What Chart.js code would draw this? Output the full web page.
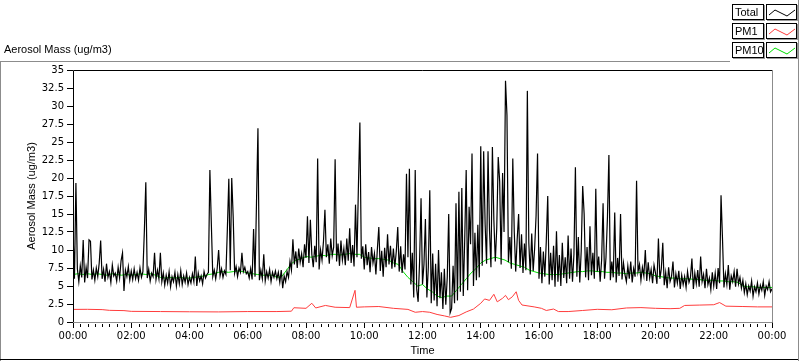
<!DOCTYPE html>
<html>
<head>
<meta charset="utf-8">
<script src="https://cdn.jsdelivr.net/npm/chart.js@4"></script>
<style>
    body { margin: 0; background: #fff; }
    #wrap { position: relative; width: 800px; height: 361px; overflow: hidden; }
    #chart { position: absolute; left: 0; top: 0; }
    .frame-top { position: absolute; left: 0; top: 61px; width: 730px; height: 0; border-top: 1px solid #8c8c8c; }
    .frame-left { position: absolute; left: 0; top: 61px; width: 0; height: 300px; border-left: 1px solid #8c8c8c; }
    .frame-bottom { position: absolute; left: 0; top: 359px; width: 799px; height: 0; border-top: 1px solid #000; }
    .frame-right { position: absolute; left: 798px; top: 0; width: 0; height: 361px; border-left: 1px solid #8c8c8c; }
    .title { position: absolute; left: 4px; top: 43px; font: 11px "Liberation Sans", Arial, sans-serif; color: #000; }
    .lg { position: absolute; height: 14px; border: 1px solid #000; background: #fff; box-shadow: 1px 1px 0 #9a9a9a;
          font: 11px "Liberation Sans", Arial, sans-serif; line-height: 14px; padding-left: 2px; box-sizing: content-box; }
    .lg svg { position: absolute; left: 0; top: 0; }
</style>
</head>
<body>
<div id="wrap">
    <canvas id="chart" width="800" height="361"></canvas>
    <div class="frame-top"></div>
    <div class="frame-left"></div>
    <div class="frame-bottom"></div>
    <div class="frame-right"></div>
    <div class="title">Aerosol Mass (ug/m3)</div>
    <div id="legend"></div>
</div>
<script>
    // sampling step of the Total series, minutes
    const totalStep = 3;
    // Total, 20 samples per hour
    const totalValues = [
        12.5, 6.0, 19.3, 7.4, 5.6, 7.8, 6.2, 11.4, 5.5, 7.6, 6.1, 11.4, 11.2, 5.9, 7.2, 5.8, 7.5, 6.3, 8.2, 11.3, // 00
        6.0, 7.3, 5.6, 8.1, 6.2, 7.0, 5.5, 7.9, 6.4, 6.8, 5.7, 7.6, 6.1, 8.5, 9.6, 4.3, 7.2, 6.3, 7.7, 5.8,       // 01
        7.1, 5.9, 7.4, 6.0, 6.9, 5.8, 7.5, 6.2, 7.0, 12.6, 19.4, 6.1, 7.3, 5.7, 6.8, 6.3, 9.6, 5.9, 7.2, 6.0,     // 02
        9.6, 5.6, 6.8, 5.1, 6.5, 5.4, 7.0, 4.9, 6.3, 5.6, 6.9, 5.0, 6.6, 5.3, 7.1, 5.2, 6.4, 5.5, 6.8, 5.2,       // 03
        6.2, 5.4, 6.7, 5.6, 9.1, 5.0, 6.8, 5.7, 6.4, 5.3, 7.0, 6.1, 6.6, 6.9, 21.1, 13.6, 6.3, 7.2, 6.0, 7.4,     // 04
        10.0, 6.4, 7.4, 6.2, 7.1, 6.6, 12.9, 19.9, 7.2, 20.0, 14.6, 6.8, 7.7, 6.3, 7.5, 6.9, 9.6, 7.0, 7.6, 6.7,  // 05
        7.0, 6.1, 7.4, 5.9, 12.9, 6.3, 16.5, 26.9, 5.8, 7.2, 6.0, 9.4, 5.7, 7.0, 6.1, 7.3, 5.6, 6.9, 6.2, 7.1,    // 06
        6.0, 6.9, 5.5, 7.2, 4.7, 6.4, 5.6, 7.0, 6.2, 8.4, 7.2, 11.5, 8.0, 9.8, 7.5, 10.2, 8.3, 9.5, 7.6, 10.8,    // 07
        8.9, 14.7, 8.2, 14.2, 9.4, 7.6, 10.6, 8.3, 22.7, 7.3, 10.0, 8.6, 11.2, 15.6, 9.0, 10.8, 8.1, 11.6, 9.2, 10.4, // 08
        22.6, 8.4, 10.9, 7.8, 11.3, 8.6, 10.2, 7.9, 11.6, 8.5, 13.0, 8.2, 10.7, 7.7, 16.3, 9.0, 18.9, 27.7, 8.8, 10.5, // 09
        7.3, 10.8, 7.9, 9.7, 6.9, 10.4, 8.2, 9.5, 6.6, 10.1, 13.2, 7.1, 9.9, 6.3, 10.3, 7.6, 12.2, 8.0, 10.6, 7.4, // 10
        10.2, 7.6, 9.8, 13.2, 7.0, 10.5, 6.8, 9.4, 7.3, 20.6, 9.0, 21.3, 5.2, 9.6, 3.4, 21.1, 4.6, 2.8, 8.4, 17.2, // 11
        5.2, 8.0, 14.3, 3.4, 7.6, 18.3, 2.6, 9.5, 3.0, 8.1, 2.2, 10.0, 3.3, 6.9, 1.8, 7.4, 2.4, 6.2, 15.0, 1.3,   // 12
        1.9, 7.8, 2.6, 16.5, 3.0, 18.1, 4.2, 18.6, 3.6, 11.5, 21.1, 4.4, 16.0, 10.8, 23.4, 5.0, 12.4, 5.8, 13.5, 6.2, // 13
        24.4, 7.8, 23.7, 13.6, 8.1, 23.7, 12.8, 7.6, 24.3, 14.2, 8.4, 13.1, 22.9, 19.5, 8.0, 20.7, 12.5, 33.5, 28.7, 8.3, // 14
        11.8, 7.4, 22.7, 12.6, 7.0, 11.4, 15.0, 7.5, 12.2, 6.8, 10.9, 7.2, 32.1, 11.0, 6.6, 12.3, 7.1, 10.2, 14.8, 23.4, // 15
        6.0, 10.4, 5.4, 9.8, 6.3, 11.2, 17.5, 5.2, 9.6, 5.8, 10.6, 4.9, 12.6, 5.6, 9.3, 5.0, 11.0, 6.1, 9.0, 5.4,  // 16
        12.0, 6.0, 10.2, 5.6, 9.4, 21.5, 6.3, 11.8, 5.5, 9.9, 18.9, 15.0, 6.2, 10.4, 5.8, 13.3, 6.5, 9.6, 6.0, 18.5, // 17
        7.0, 9.1, 5.6, 8.6, 16.5, 6.0, 9.0, 14.5, 23.2, 5.8, 8.4, 6.2, 15.2, 5.5, 8.9, 6.4, 15.0, 5.9, 8.2, 6.6,  // 18
        5.6, 7.8, 6.0, 8.4, 5.5, 7.4, 6.3, 19.6, 7.0, 8.0, 5.8, 7.6, 6.4, 10.0, 5.7, 8.3, 6.1, 7.3, 5.4, 7.9,     // 19
        6.8, 5.3, 11.6, 6.0, 7.4, 11.0, 5.1, 6.9, 4.7, 7.6, 5.6, 6.3, 8.4, 4.8, 6.7, 5.4, 7.1, 4.6, 6.5, 5.2,     // 20
        6.3, 4.8, 7.0, 5.5, 6.2, 8.8, 4.6, 6.8, 5.3, 7.2, 4.9, 9.1, 5.6, 6.6, 4.7, 7.4, 5.2, 6.1, 4.5, 6.9,       // 21
        5.0, 6.8, 4.6, 7.5, 5.4, 17.6, 11.6, 4.8, 6.7, 5.2, 7.9, 4.5, 6.4, 5.6, 7.0, 4.9, 7.4, 5.3, 6.2, 4.7,     // 22
        5.8, 4.1, 5.3, 3.8, 5.0, 4.3, 5.7, 3.6, 4.9, 4.2, 5.4, 3.9, 5.1, 4.4, 5.6, 3.7, 5.0, 4.5, 5.6, 4.2,       // 23
        4.6
    ];

    // sampling step of PM10, minutes
    const pm10Step = 10;
    const pm10Values = [
        6.6, 6.7, 6.6, 6.7, 6.6, 6.7,
        6.6, 6.5, 6.7, 6.6, 6.5, 6.6,
        6.5, 6.6, 6.7, 6.6, 6.7, 6.5,
        6.2, 6.1, 6.2, 6.1, 6.2, 6.1,
        6.1, 6.2, 6.3, 6.4, 6.6, 6.7,
        6.9, 7.0, 6.9, 7.0, 7.1, 7.0,
        6.8, 6.7, 6.6, 6.5, 6.5, 6.5,
        6.2, 6.3, 7.2, 8.1, 8.6, 8.8,
        9.1, 9.0, 9.1, 9.3, 9.2, 9.4,
        9.4, 9.3, 9.4, 9.5, 9.4, 9.4,
        9.0, 8.9, 8.8, 8.8, 8.7, 8.6,
        8.2, 8.0, 7.0, 6.2, 5.6, 5.0,
        5.2, 4.6, 4.2, 3.6, 3.4, 3.6,
        3.6, 4.4, 5.2, 6.0, 6.8, 7.4,
        8.2, 8.6, 8.8, 9.0, 8.8, 8.6,
        8.2, 8.0, 7.8, 7.6, 7.2, 7.0,
        6.8, 6.7, 6.6, 6.6, 6.6, 6.7,
        6.8, 6.9, 7.0, 7.0, 7.1, 7.1,
        7.0, 7.0, 6.9, 6.9, 6.8, 6.8,
        6.7, 6.8, 6.8, 6.9, 6.8, 6.7,
        6.4, 6.3, 6.2, 6.1, 6.1, 6.0,
        6.0, 6.0, 5.9, 5.9, 5.8, 5.8,
        5.8, 5.7, 5.7, 5.6, 5.6, 5.5,
        5.0, 4.9, 4.9, 4.8, 4.8, 4.8,
        4.8
    ];

    // PM1, read at irregular times (minutes since midnight)
    const pm1Minutes = [
        0, 30, 60, 75, 105, 120, 180, 240, 300, 360, 420, 450, 455, 480, 492, 500, 520, 540,
        570, 581, 584, 600, 630, 660, 690, 705, 720, 735, 750, 765, 778, 795, 810, 825, 840,
        848, 858, 867, 874, 885, 891, 897, 905, 913, 918, 925, 950, 965, 975, 990, 1000,
        1020, 1050, 1080, 1110, 1140, 1170, 1200, 1230, 1250, 1260, 1290, 1320, 1332, 1345,
        1380, 1410, 1440
    ];
    const pm1Values = [
        1.75, 1.76, 1.72, 1.62, 1.58, 1.48, 1.45, 1.42, 1.40, 1.45, 1.45, 1.5, 1.98, 1.9, 2.6, 1.95, 2.3, 2.05,
        2.0, 4.4, 2.05, 2.1, 2.15, 1.9, 1.75, 1.35, 1.45, 1.35, 1.05, 0.85, 0.65, 0.9, 1.4, 1.8, 2.6,
        3.2, 3.0, 3.85, 2.8, 3.3, 3.7, 3.1, 3.5, 4.2, 3.0, 2.36, 2.1, 1.9, 1.6, 1.8, 1.45,
        1.45, 1.6, 1.76, 1.7, 1.95, 2.0, 1.9, 1.85, 1.9, 2.3, 2.35, 2.4, 2.7, 2.2,
        2.15, 2.1, 2.1
    ];

    const yTicks = { min: 0, max: 35, step: 2.5 };
    const xTicks = { min: 0, max: 1440, major: 120, minor: 15 };

    const seriesNames = ["Total", "PM1", "PM10"];
    const seriesColors = ["#000000", "#ff3c3c", "#00e000"];

    function onGrid(values, step) {
        return values.map((v, i) => ({ x: i * step, y: v }));
    }

    function fmtTime(value) {
        const h = Math.round(value / 60) % 24;
        return (h < 10 ? "0" : "") + h + ":00";
    }

    // LabVIEW-ish frame and minor ticks
    const framePlugin = {
        id: "frame",
        afterDraw(chart) {
            const ctx = chart.ctx;
            const a = chart.chartArea;
            const xs = chart.scales.x;
            ctx.save();
            ctx.lineWidth = 1;
            ctx.strokeStyle = "#000";
            ctx.beginPath();
            ctx.moveTo(a.left + 0.5, a.bottom);
            ctx.lineTo(a.left + 0.5, a.top + 0.5);
            ctx.lineTo(a.right, a.top + 0.5);
            ctx.stroke();
            ctx.strokeStyle = "#8c8c8c";
            ctx.beginPath();
            ctx.moveTo(a.right + 0.5, a.top);
            ctx.lineTo(a.right + 0.5, a.bottom + 0.5);
            ctx.lineTo(a.left, a.bottom + 0.5);
            ctx.stroke();
            ctx.strokeStyle = "#000";
            ctx.beginPath();
            for (let m = xTicks.min; m <= xTicks.max; m += xTicks.minor) {
                if (m % xTicks.major === 0) continue;
                const px = Math.round(xs.getPixelForValue(m)) + 0.5;
                ctx.moveTo(px, a.bottom + 2);
                ctx.lineTo(px, a.bottom + 5);
            }
            ctx.stroke();
            ctx.restore();
        },
    };

    const tickFont = { family: "'DejaVu Sans', Verdana, sans-serif", size: 10 };
    const labelFont = { family: "'Liberation Sans', Arial, sans-serif", size: 11 };

    new Chart(document.getElementById("chart").getContext("2d"), {
        type: "line",
        data: {
            datasets: [
                {
                    label: seriesNames[0],
                    data: onGrid(totalValues, totalStep),
                    borderColor: seriesColors[0],
                    borderWidth: 1.2,
                },
                {
                    label: seriesNames[1],
                    data: pm1Minutes.map((m, i) => ({ x: m, y: pm1Values[i] })),
                    borderColor: seriesColors[1],
                },
                { label: seriesNames[2], data: onGrid(pm10Values, pm10Step), borderColor: seriesColors[2] },
            ],
        },
        options: {
            responsive: false,
            animation: false,
            parsing: false,
            layout: { padding: { top: 70, right: 28, left: 0, bottom: 0 } },
            elements: {
                point: { radius: 0 },
                line: { borderWidth: 1, tension: 0 },
            },
            scales: {
                x: {
                    type: "linear",
                    min: xTicks.min,
                    max: xTicks.max,
                    afterFit: (scale) => { scale.height = 39; },
                    afterBuildTicks: (scale) => {
                        const t = [];
                        for (let m = xTicks.min; m <= xTicks.max; m += xTicks.major) t.push({ value: m });
                        scale.ticks = t;
                    },
                    border: { display: false },
                    grid: { drawOnChartArea: false, tickLength: 6, color: "#000", offset: false },
                    ticks: {
                        color: "#000",
                        font: tickFont,
                        padding: 2,
                        maxRotation: 0,
                        autoSkip: false,
                        callback: (v) => fmtTime(v),
                    },
                    title: { display: true, text: "Time", color: "#000", font: labelFont, padding: { top: 0, bottom: 3 } },
                },
                y: {
                    min: yTicks.min,
                    max: yTicks.max,
                    afterFit: (scale) => { scale.width = 73; },
                    afterBuildTicks: (scale) => {
                        const t = [];
                        for (let v = yTicks.min; v <= yTicks.max + 1e-9; v += yTicks.step) t.push({ value: v });
                        scale.ticks = t;
                    },
                    border: { display: false },
                    grid: { drawOnChartArea: false, tickLength: 6, color: "#000" },
                    ticks: { color: "#000", font: tickFont, padding: 3, callback: (v) => String(v) },
                    title: {
                        display: true,
                        text: "Aerosol Mass (ug/m3)",
                        color: "#000",
                        font: labelFont,
                        padding: { top: 25, bottom: 0 },
                    },
                },
            },
            plugins: { legend: { display: false }, tooltip: { enabled: false } },
        },
        plugins: [framePlugin],
    });

    // legend boxes on the top right
    const samplePts = "2,10 8,5 14,8 20,11 28,5";
    const legend = document.getElementById("legend");
    seriesNames.forEach((name, i) => {
        const top = 4 + i * 19;
        const label = document.createElement("div");
        label.className = "lg";
        label.style.left = "732px";
        label.style.top = top + "px";
        label.style.width = "28px";
        label.textContent = name;
        legend.appendChild(label);

        const sample = document.createElement("div");
        sample.className = "lg";
        sample.style.left = "766px";
        sample.style.top = top + "px";
        sample.style.width = "27px";
        sample.style.paddingLeft = "2px";
        sample.innerHTML =
            '<svg width="29" height="14"><polyline points="' + samplePts +
            '" fill="none" stroke="' + seriesColors[i] + '" stroke-width="1"/></svg>';
        legend.appendChild(sample);
    });
</script>
</body>
</html>
